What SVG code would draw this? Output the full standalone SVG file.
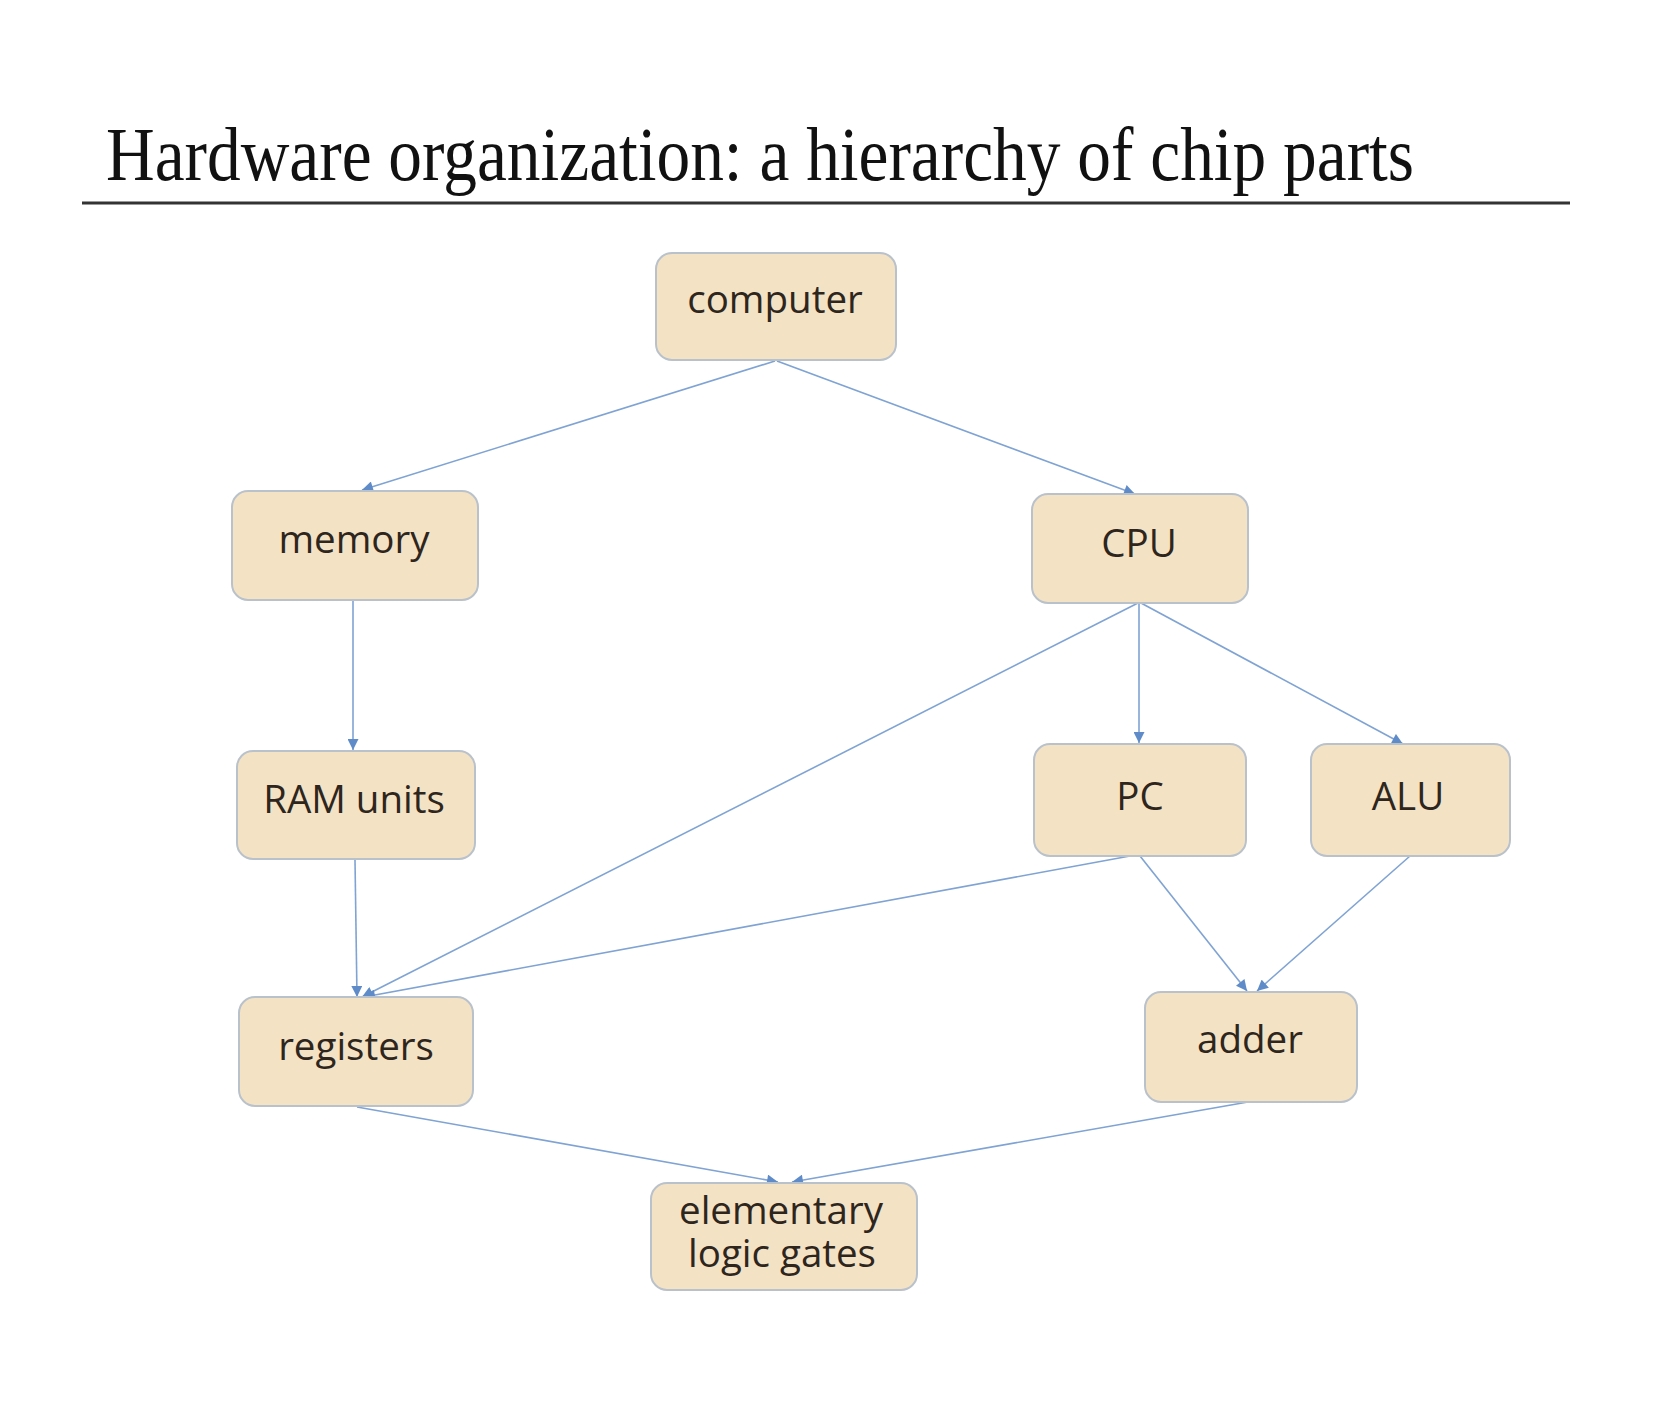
<svg xmlns="http://www.w3.org/2000/svg" width="1654" height="1416" viewBox="0 0 1654 1416">
<style>
.box{fill:#f4e2c5;stroke:#b9c2cb;stroke-width:2}
.lbl{font-family:"Open Sans","Liberation Sans",sans-serif;font-size:38.5px;fill:#2e261c;text-anchor:middle}
.edge{fill:none;stroke:#7fa3d3;stroke-width:1.6}
.title{font-family:"Liberation Serif","Times New Roman",serif;font-size:76px;fill:#111}
</style>
<defs>
<marker id="arr" viewBox="0 0 10 10" refX="10" refY="5" markerWidth="12" markerHeight="11" markerUnits="userSpaceOnUse" orient="auto">
<path d="M0,0 L10,5 L0,10 z" fill="#5f8cc8"/>
</marker>
</defs>
<rect width="1654" height="1416" fill="#ffffff"/>
<g id="title">
<text class="title" x="106" y="180" textLength="1308" lengthAdjust="spacingAndGlyphs">Hardware organization: a hierarchy of chip parts</text>
<line x1="82" y1="203" x2="1570" y2="203" stroke="#333" stroke-width="3"/>
</g>
<g id="connectors">
<line class="edge" x1="775" y1="361" x2="362" y2="490" marker-end="url(#arr)"/>
<line class="edge" x1="777" y1="361" x2="1135" y2="494" marker-end="url(#arr)"/>
<line class="edge" x1="353" y1="600" x2="353" y2="750" marker-end="url(#arr)"/>
<line class="edge" x1="355" y1="860" x2="357" y2="997" marker-end="url(#arr)"/>
<line class="edge" x1="1138" y1="603" x2="362" y2="997" marker-end="url(#arr)"/>
<line class="edge" x1="1139" y1="603" x2="1139" y2="743" marker-end="url(#arr)"/>
<line class="edge" x1="1141" y1="603" x2="1403" y2="744" marker-end="url(#arr)"/>
<line class="edge" x1="1130" y1="856" x2="364" y2="997" marker-end="url(#arr)"/>
<line class="edge" x1="1140" y1="856" x2="1247" y2="991" marker-end="url(#arr)"/>
<line class="edge" x1="1410" y1="856" x2="1257" y2="991" marker-end="url(#arr)"/>
<line class="edge" x1="357" y1="1107" x2="778" y2="1182" marker-end="url(#arr)"/>
<line class="edge" x1="1248" y1="1102" x2="792" y2="1182" marker-end="url(#arr)"/>
</g>
<g id="computer"><rect class="box" x="656" y="253" width="240" height="107" rx="16"/><text class="lbl" x="775" y="313">computer</text></g>
<g id="memory"><rect class="box" x="232" y="491" width="246" height="109" rx="16"/><text class="lbl" x="354" y="553">memory</text></g>
<g id="cpu"><rect class="box" x="1032" y="494" width="216" height="109" rx="16"/><text class="lbl" x="1139" y="557">CPU</text></g>
<g id="ram"><rect class="box" x="237" y="751" width="238" height="108" rx="16"/><text class="lbl" x="354" y="813">RAM units</text></g>
<g id="pc"><rect class="box" x="1034" y="744" width="212" height="112" rx="16"/><text class="lbl" x="1140" y="810">PC</text></g>
<g id="alu"><rect class="box" x="1311" y="744" width="199" height="112" rx="16"/><text class="lbl" x="1408" y="810">ALU</text></g>
<g id="registers"><rect class="box" x="239" y="997" width="234" height="109" rx="16"/><text class="lbl" x="356" y="1060">registers</text></g>
<g id="adder"><rect class="box" x="1145" y="992" width="212" height="110" rx="16"/><text class="lbl" x="1250" y="1053">adder</text></g>
<g id="gates"><rect class="box" x="651" y="1183" width="266" height="107" rx="16"/><text class="lbl" x="781" y="1224">elementary</text><text class="lbl" x="782" y="1267">logic gates</text></g>
</svg>
